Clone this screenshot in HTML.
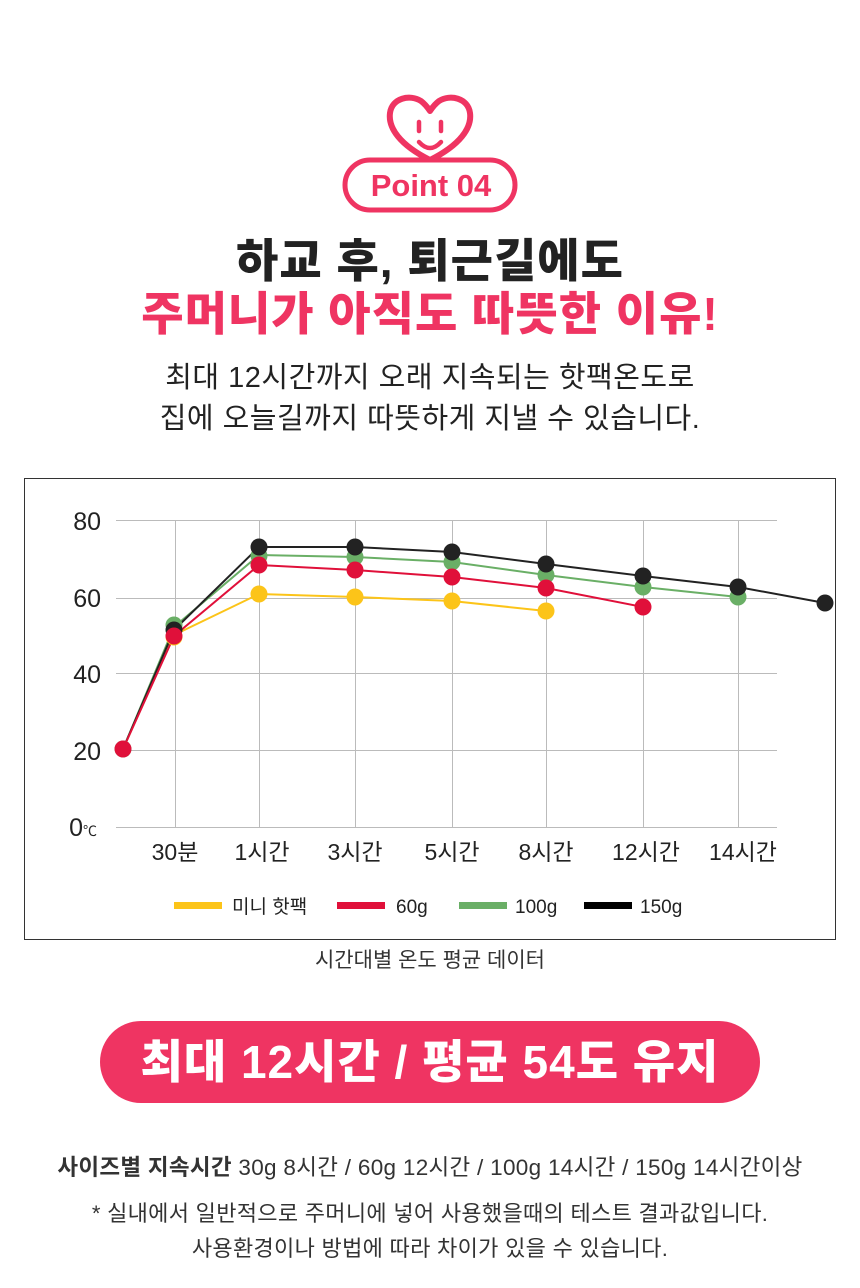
<!DOCTYPE html>
<html><head><meta charset="utf-8">
<style>
body{margin:0;background:#fff;width:860px;height:1288px;overflow:hidden;font-family:"Liberation Sans","Noto Sans CJK KR",sans-serif;color:#222;position:relative}
.c{position:absolute;left:0;width:860px;text-align:center;white-space:nowrap}
</style></head><body>
<svg width="860" height="1288" style="position:absolute;left:0;top:0">
<path d="M430 160 C400 145 388 128 390 113 C392 98 410 94 421 101 C425 104 428 108 430 111 C432 108 435 104 439 101 C450 94 468 98 470 113 C472 128 460 145 430 160 Z" fill="#fff" stroke="#ef3462" stroke-width="6" stroke-linejoin="round"/>
<line x1="419" y1="122" x2="419" y2="131" stroke="#ef3462" stroke-width="4.5" stroke-linecap="round"/>
<line x1="441" y1="122" x2="441" y2="131" stroke="#ef3462" stroke-width="4.5" stroke-linecap="round"/>
<path d="M419 142 Q430 154 441 142" fill="none" stroke="#ef3462" stroke-width="4.5" stroke-linecap="round"/>
<rect x="345" y="160" width="170" height="50" rx="25" fill="#fff" stroke="#ef3462" stroke-width="5"/>
<text x="431" y="196" text-anchor="middle" font-size="31" font-weight="bold" fill="#ef3462" font-family="Liberation Sans, sans-serif">Point 04</text>
<rect x="24.5" y="478.5" width="811" height="461" fill="none" stroke="#333" stroke-width="1"/>
<g stroke="#bbb" stroke-width="1">
<line x1="116" y1="520.5" x2="777" y2="520.5"/><line x1="116" y1="598.5" x2="777" y2="598.5"/>
<line x1="116" y1="673.5" x2="777" y2="673.5"/><line x1="116" y1="750.5" x2="777" y2="750.5"/>
<line x1="116" y1="827.5" x2="777" y2="827.5"/>
<line x1="175.5" y1="520" x2="175.5" y2="827"/><line x1="259.5" y1="520" x2="259.5" y2="827"/>
<line x1="355.5" y1="520" x2="355.5" y2="827"/><line x1="452.5" y1="520" x2="452.5" y2="827"/>
<line x1="546.5" y1="520" x2="546.5" y2="827"/><line x1="643.5" y1="520" x2="643.5" y2="827"/>
<line x1="738.5" y1="520" x2="738.5" y2="827"/>
</g>
<g font-size="25" fill="#222" text-anchor="end">
<text x="101" y="530">80</text><text x="101" y="607">60</text><text x="101" y="683">40</text><text x="101" y="760">20</text>
<text x="83" y="836">0</text></g>
<text x="83" y="836" font-size="14" fill="#222">℃</text>
<g font-size="23" fill="#222" text-anchor="middle">
<text x="175" y="860">30분</text><text x="262" y="860">1시간</text><text x="355" y="860">3시간</text><text x="452" y="860">5시간</text><text x="546" y="860">8시간</text><text x="646" y="860">12시간</text><text x="743" y="860">14시간</text></g>
<polyline points="123,749 174,635 259,594 355,597 452,601 546,611" fill="none" stroke="#fcc419" stroke-width="2"/>
<polyline points="123,749 174,627 259,555 355,557 452,562 546,575 643,587 738,597" fill="none" stroke="#6aaf66" stroke-width="2"/>
<polyline points="123,749 174,630 259,547 355,547 452,552 546,564 643,576 738,587 825,603" fill="none" stroke="#222" stroke-width="2"/>
<polyline points="123,749 174,636 259,565 355,570 452,577 546,588 643,607" fill="none" stroke="#e0103a" stroke-width="2"/>
<g fill="#fcc419"><circle cx="174" cy="637" r="8.5"/><circle cx="259" cy="594" r="8.5"/><circle cx="355" cy="597" r="8.5"/><circle cx="452" cy="601" r="8.5"/><circle cx="546" cy="611" r="8.5"/></g>
<g fill="#6aaf66"><circle cx="123" cy="749" r="8.5"/><circle cx="174" cy="625" r="8.5"/><circle cx="259" cy="556" r="8.5"/><circle cx="355" cy="557" r="8.5"/><circle cx="452" cy="562" r="8.5"/><circle cx="546" cy="575" r="8.5"/><circle cx="643" cy="587" r="8.5"/><circle cx="738" cy="597" r="8.5"/></g>
<g fill="#222"><circle cx="174" cy="630" r="8.5"/><circle cx="259" cy="547" r="8.5"/><circle cx="355" cy="547" r="8.5"/><circle cx="452" cy="552" r="8.5"/><circle cx="546" cy="564" r="8.5"/><circle cx="643" cy="576" r="8.5"/><circle cx="738" cy="587" r="8.5"/><circle cx="825" cy="603" r="8.5"/></g>
<g fill="#e0103a"><circle cx="123" cy="749" r="8.5"/><circle cx="174" cy="636" r="8.5"/><circle cx="259" cy="565" r="8.5"/><circle cx="355" cy="570" r="8.5"/><circle cx="452" cy="577" r="8.5"/><circle cx="546" cy="588" r="8.5"/><circle cx="643" cy="607" r="8.5"/></g>
<rect x="174" y="902" width="48" height="7" fill="#fcc419"/><text x="232" y="913" font-size="19" fill="#222">미니 핫팩</text>
<rect x="337" y="902" width="48" height="7" fill="#e0103a"/><text x="396" y="913" font-size="19" fill="#222">60g</text>
<rect x="459" y="902" width="48" height="7" fill="#6aaf66"/><text x="515" y="913" font-size="19" fill="#222">100g</text>
<rect x="584" y="902" width="48" height="7" fill="#000"/><text x="640" y="913" font-size="19" fill="#222">150g</text>
<rect x="100" y="1021" width="660" height="82" rx="41" fill="#ef3462"/>
</svg>
<div class="c" style="top:234px;font-size:46px;font-weight:900;color:#222;line-height:54px;letter-spacing:1px">하교 후, 퇴근길에도</div>
<div class="c" style="top:287px;font-size:46px;font-weight:900;color:#ef3462;line-height:54px;letter-spacing:1px">주머니가 아직도 따뜻한 이유!</div>
<div class="c" style="top:358px;font-size:29px;line-height:41px;color:#222;letter-spacing:0.5px">최대 12시간까지 오래 지속되는 핫팩온도로<br>집에 오늘길까지 따뜻하게 지낼 수 있습니다.</div>
<div class="c" style="top:944px;font-size:21px;color:#333">시간대별 온도 평균 데이터</div>
<div class="c" style="top:1034px;font-size:46px;font-weight:900;color:#fff;line-height:56px;letter-spacing:1px">최대 12시간 / 평균 54도 유지</div>
<div class="c" style="top:1150px;font-size:22.5px;color:#333;letter-spacing:0.3px"><b>사이즈별 지속시간</b> 30g 8시간 / 60g 12시간 / 100g 14시간 / 150g 14시간이상</div>
<div class="c" style="top:1196px;font-size:22px;line-height:35px;color:#333;letter-spacing:0.3px">* 실내에서 일반적으로 주머니에 넣어 사용했을때의 테스트 결과값입니다.<br>사용환경이나 방법에 따라 차이가 있을 수 있습니다.</div>
</body></html>
